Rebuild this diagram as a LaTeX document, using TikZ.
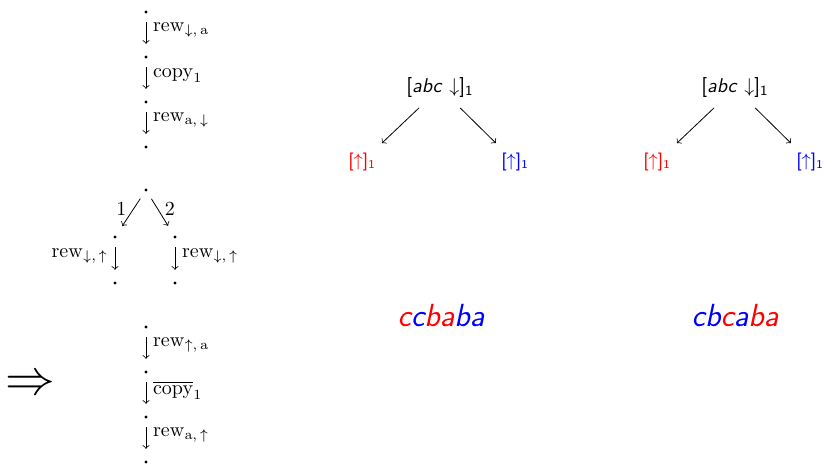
\documentclass[tikz,border=0pt]{standalone}
\usepackage{amsmath}
\usepackage{amssymb}
\usepackage{xcolor}
\usetikzlibrary{arrows, positioning, calc}

\tikzset{
  pt/.style={circle, fill, inner sep=0pt, minimum size=1.6pt},
  hop/.style={->, shorten <=4.2pt, shorten >=5.6pt},
  lab/.style={font=\normalsize, pos=0.4},
  ann/.style={font=\sffamily},
  word/.style={font=\fontsize{16}{19}\selectfont\sffamily\itshape}
}

\begin{document}
\begin{tikzpicture}[x=0.5pt, y=-0.5pt]
\useasboundingbox (0,0) rectangle (824,465);

% First run: rewrite, copy, rewrite
\foreach \i/\y in {1/12, 2/57, 3/102, 4/147} {
   \node[pt] (t\i) at (146, \y) {};
}
\draw[hop] (t1) -- node[right, lab] {$\mathrm{rew}_{\downarrow,\,\mathrm{a}}$} (t2);
\draw[hop] (t2) -- node[right, lab] {$\mathrm{copy}_1$} (t3);
\draw[hop] (t3) -- node[right, lab] {$\mathrm{rew}_{\mathrm{a},\,\downarrow}$} (t4);

% Split into the two copies
\node[pt] (b0) at (146, 190) {};
\node[pt] (b1) at (115, 237) {};
\node[pt] (b2) at (175, 237) {};
\node[pt] (b3) at (115, 283) {};
\node[pt] (b4) at (175, 283) {};
\draw[hop] (b0) -- node[left, lab] {1} (b1);
\draw[hop] (b0) -- node[right, lab] {2} (b2);
\draw[hop] (b1) -- node[left, lab] {$\mathrm{rew}_{\downarrow,\,\uparrow}$} (b3);
\draw[hop] (b2) -- node[right, lab] {$\mathrm{rew}_{\downarrow,\,\uparrow}$} (b4);

% Second run: rewrite, uncopy, rewrite
\foreach \i/\y in {1/327, 2/372, 3/417, 4/462} {
   \node[pt] (u\i) at (146, \y) {};
}
\draw[hop] (u1) -- node[right, lab] {$\mathrm{rew}_{\uparrow,\,\mathrm{a}}$} (u2);
\draw[hop] (u2) -- node[right, lab] {$\overline{\mathrm{copy}}_1$} (u3);
\draw[hop] (u3) -- node[right, lab] {$\mathrm{rew}_{\mathrm{a},\,\uparrow}$} (u4);

\node[font=\Huge] (imp) at (30, 385) {$\Rightarrow$};

% Trees
\foreach \n/\x in {p/440, q/735} {
   \node[ann] (\n0) at (\x, 88) {[\textit{abc} $\downarrow$]$_{\textsf{1}}$};
   \node[ann, font=\small\sffamily, text=red] (\n1) at (\x-78, 162) {[$\uparrow$]$_{\textsf{1}}$};
   \node[ann, font=\small\sffamily, text=blue] (\n2) at (\x+75, 162) {[$\uparrow$]$_{\textsf{1}}$};
   \draw[->, shorten <=2pt, shorten >=2pt] (\n0) -- (\n1);
   \draw[->, shorten <=2pt, shorten >=2pt] (\n0) -- (\n2);
}

% Resulting words
\node[word] (w1) at (441, 316) {\textcolor{red}{c}\textcolor{blue}{c}\textcolor{red}{ba}\textcolor{blue}{ba}};
\node[word] (w2) at (735, 316) {\textcolor{blue}{cb}\textcolor{red}{c}\textcolor{blue}{a}\textcolor{red}{ba}};
\end{tikzpicture}
\end{document}
